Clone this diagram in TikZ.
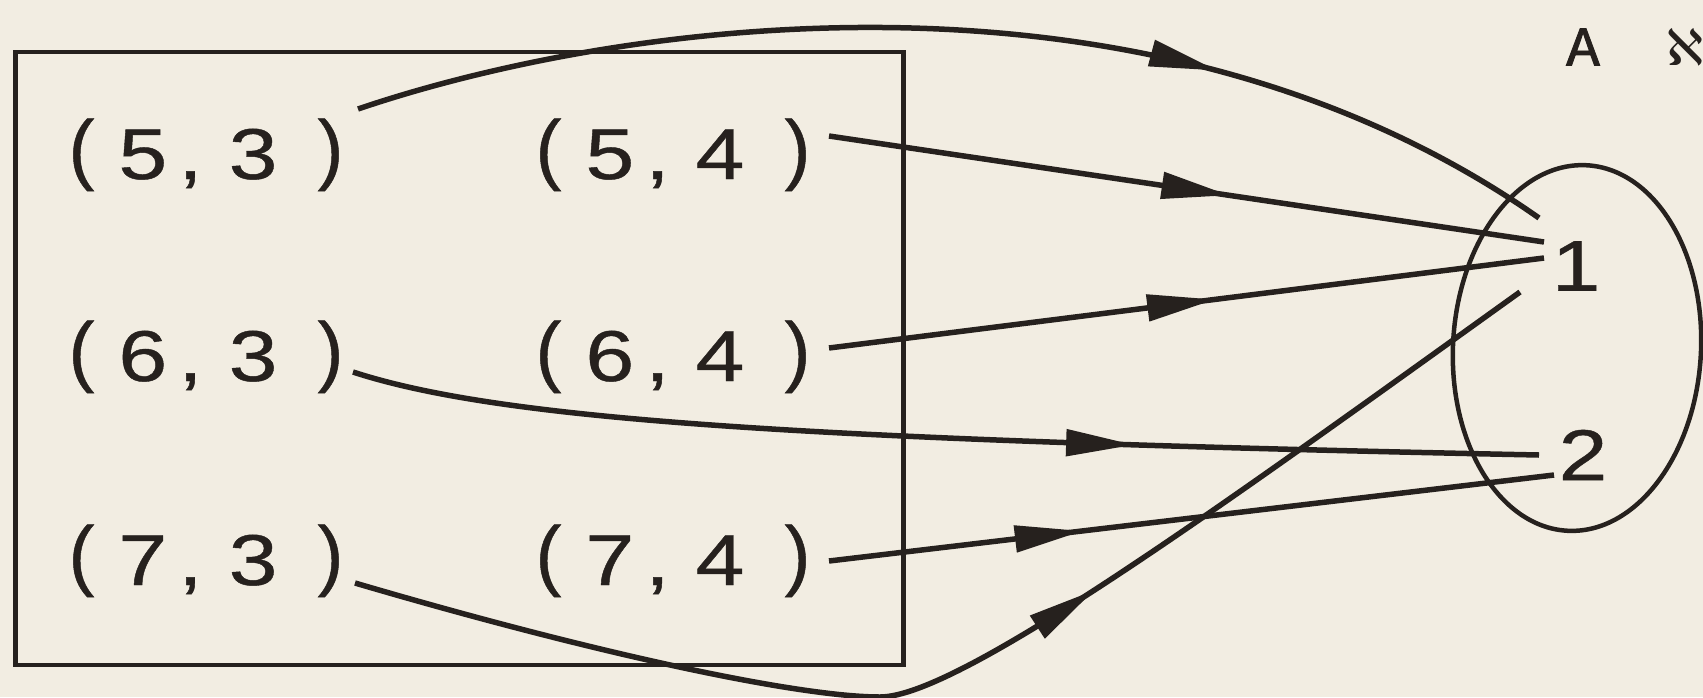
\documentclass[tikz,border=0pt]{standalone}
\usepackage{fontspec}
\setmainfont{Liberation Sans}
\newfontfamily\labfam[FakeStretch=1.22,FakeBold=0.6]{Liberation Sans}
\newfontfamily\parfam[FakeBold=0.6]{Liberation Sans}
\newfontfamily\monofam[FakeBold=1.5]{Liberation Mono}
\newfontfamily\dejavu{DejaVu Sans}
\usetikzlibrary{arrows.meta,decorations.markings,shapes.geometric}
\definecolor{paper}{RGB}{242,237,226}
\definecolor{ink}{RGB}{38,33,30}
\newcommand{\lp}{\kern2pt\raisebox{4pt}{\parfam\fontsize{78}{80}\selectfont(}}
\newcommand{\rp}{\raisebox{4pt}{\parfam\fontsize{78}{80}\selectfont)}\kern2pt}
\newcommand{\pr}[2]{\lp\kern24pt#1\kern11pt,\kern26pt#2\kern40pt\rp}
\begin{document}
\begin{tikzpicture}[x=1pt,y=-1pt,
  lbl/.style={inner sep=0pt, anchor=base, font=\labfam\fontsize{72}{80}\selectfont, text=ink},
  elt/.style={inner sep=0pt, font=\labfam\fontsize{72}{80}\selectfont, text=ink},
  conn/.style={draw=ink, line width=5.5pt},
  midarrow/.style={postaction={decorate}, decoration={markings,
     mark=at position #1 with {\arrow{Triangle[length=68pt,width=26pt]}}}}]
\useasboundingbox (0,0) rectangle (1703,697);
\fill[paper] (0,0) rectangle (1703,697);
% box
\node[draw=ink, line width=4.5pt, inner sep=0pt, minimum width=888pt, minimum height=613pt] (box) at (459.3,358.5) {};
% pair labels
\node[lbl] (p53) at (206,179) {\pr{5}{3}};
\node[lbl] (p54) at (673,179) {\pr{5}{4}};
\node[lbl] (p63) at (206,381) {\pr{6}{3}};
\node[lbl] (p64) at (673,381) {\pr{6}{4}};
\node[lbl] (p73) at (206,585) {\pr{7}{3}};
\node[lbl] (p74) at (673,585) {\pr{7}{4}};
% target set
\node[draw=ink, line width=4.5pt, ellipse, inner sep=0pt, minimum width=248pt, minimum height=366pt, rotate=-3] (setB) at (1577,348) {};
\node[elt] (one) at (1576,266) {1};
\node[elt] (two) at (1583,455) {2};
% heading
\node[inner sep=0pt, font=\monofam\fontsize{56}{60}\selectfont, text=ink] (hA) at (1583,47) {A};
\node[inner sep=0pt, anchor=west, font=\dejavu\fontsize{50}{60}\selectfont, text=ink] (hB) at (1666,47) {ℵ};
% connectors
\draw[conn, midarrow=0.71] ([shift={(152,-70)}]p53.base) .. controls (620,20) and (1150,-55) .. ([shift={(-37,-48)}]one.center);
\draw[conn, midarrow=0.56] ([shift={(156,-43)}]p54.base) -- ([shift={(-32,-24)}]one.center);
\draw[conn, midarrow=0.54] ([shift={(156,-33)}]p64.base) -- ([shift={(-32,-8)}]one.center);
\draw[conn, midarrow=0.66] ([shift={(147,-9)}]p63.base) .. controls (500,420) and (800,440) .. ([shift={(-44,0)}]two.center);
\draw[conn, midarrow=0.35] ([shift={(156,-24)}]p74.base) -- ([shift={(-29,20)}]two.center);
\coordinate (low) at (880,697);
\draw[conn, midarrow=0.60] ([shift={(149,-2)}]p73.base) .. controls (600,655) and (800,697) .. (low) .. controls (960,697) and (1230,500) .. ([shift={(-56,26)}]one.center);
\end{tikzpicture}
\end{document}
